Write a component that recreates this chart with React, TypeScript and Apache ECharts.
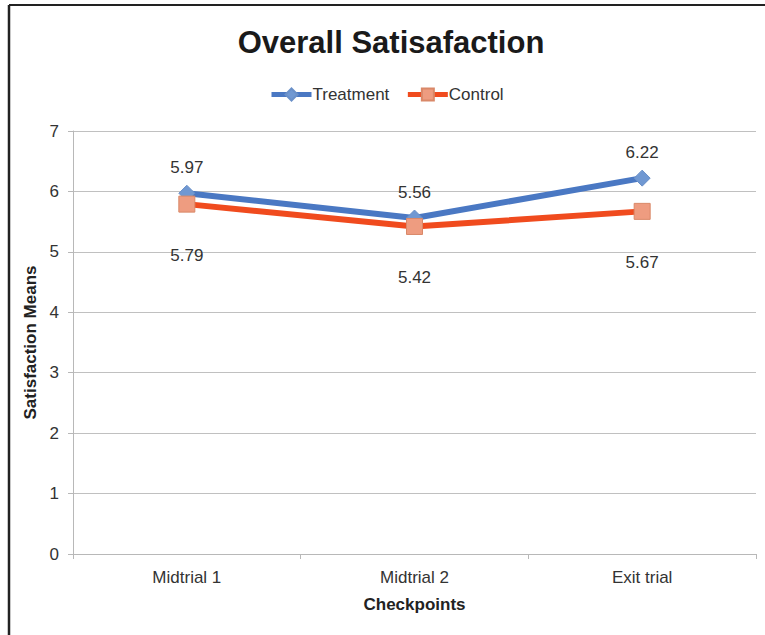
import React, { useEffect, useRef } from "react";
import * as echarts from "echarts";

const categories = ["Midtrial 1", "Midtrial 2", "Exit trial"];
const treatment = [5.97, 5.56, 6.22];
const control = [5.79, 5.42, 5.67];
const yTicks = [0, 1, 2, 3, 4, 5, 6, 7];

const FONT = "'Liberation Sans', Arial, Helvetica, sans-serif";

export default function App() {
  const ref = useRef<HTMLDivElement>(null);
  useEffect(() => {
    if (!ref.current) return;
    const chart = echarts.init(ref.current, undefined, { renderer: "svg" });
    chart.setOption({
      animation: false,
      backgroundColor: "#ffffff",
      textStyle: { fontFamily: FONT },
      title: {
        text: "Overall Satisafaction",
        left: 386,
        textAlign: "center",
        top: 22,
        textStyle: { fontSize: 31, fontWeight: "bold", color: "#1a1a1a", fontFamily: FONT },
      },
      legend: {
        top: 81,
        left: 264,
        itemWidth: 40,
        itemHeight: 15,
        itemGap: 16,
        lineStyle: { width: 5 },
        textStyle: { fontSize: 17, color: "#333", fontFamily: FONT, padding: [0, 0, 0, -4] },
        data: ["Treatment", "Control"],
      },
      grid: { left: 73, right: 9, top: 131, bottom: 81, containLabel: false },
      xAxis: {
        type: "category",
        data: categories,
        boundaryGap: true,
        name: "Checkpoints",
        nameLocation: "middle",
        nameGap: 42,
        nameTextStyle: { fontSize: 17, fontWeight: "bold", color: "#222", fontFamily: FONT },
        axisLine: { lineStyle: { color: "#b8b8b8", width: 1 } },
        axisTick: { show: true, alignWithLabel: false, length: 5, lineStyle: { color: "#b8b8b8" } },
        axisLabel: { fontSize: 17, color: "#333", margin: 15, fontFamily: FONT },
      },
      yAxis: {
        type: "value",
        min: yTicks[0],
        max: yTicks[yTicks.length - 1],
        interval: 1,
        name: "Satisfaction Means",
        nameLocation: "middle",
        nameGap: 28,
        nameRotate: 90,
        nameTextStyle: { fontSize: 17, fontWeight: "bold", color: "#222", fontFamily: FONT },
        axisLine: { show: true, lineStyle: { color: "#b8b8b8", width: 1 } },
        axisTick: { show: true, length: 5, lineStyle: { color: "#b8b8b8" } },
        axisLabel: { fontSize: 17, color: "#333", margin: 14, fontFamily: FONT },
        splitLine: { show: true, lineStyle: { color: "#c0c0c0", width: 1 } },
      },
      series: [
        {
          name: "Treatment",
          type: "line",
          data: treatment,
          symbol: "diamond",
          symbolSize: 16,
          lineStyle: { color: "#4a78c3", width: 6 },
          itemStyle: { color: "#7098d2", borderColor: "#6a90c8", borderWidth: 1 },
          label: {
            show: true,
            position: "top",
            distance: 9,
            fontSize: 17,
            color: "#333",
            fontFamily: FONT,
            formatter: (p: any) => p.value.toFixed(2),
          },
          z: 3,
        },
        {
          name: "Control",
          type: "line",
          data: control,
          symbol: "rect",
          symbolSize: 16,
          lineStyle: { color: "#f04b1e", width: 6 },
          itemStyle: { color: "#ee9c80", borderColor: "#d98868", borderWidth: 1 },
          label: {
            show: true,
            position: "bottom",
            distance: 34,
            fontSize: 17,
            color: "#333",
            fontFamily: FONT,
            formatter: (p: any) => p.value.toFixed(2),
          },
          z: 4,
        },
      ],
      graphic: [
        { type: "line", shape: { x1: 9, y1: 5, x2: 765, y2: 5 }, style: { stroke: "#222", lineWidth: 2 } },
        { type: "line", shape: { x1: 9, y1: 5, x2: 9, y2: 635 }, style: { stroke: "#222", lineWidth: 2.5 } },
      ],
    });
    return () => chart.dispose();
  }, []);
  return (
    <div
      ref={ref}
      style={{ position: "fixed", left: 0, top: 0, width: 765, height: 635 }}
    />
  );
}
